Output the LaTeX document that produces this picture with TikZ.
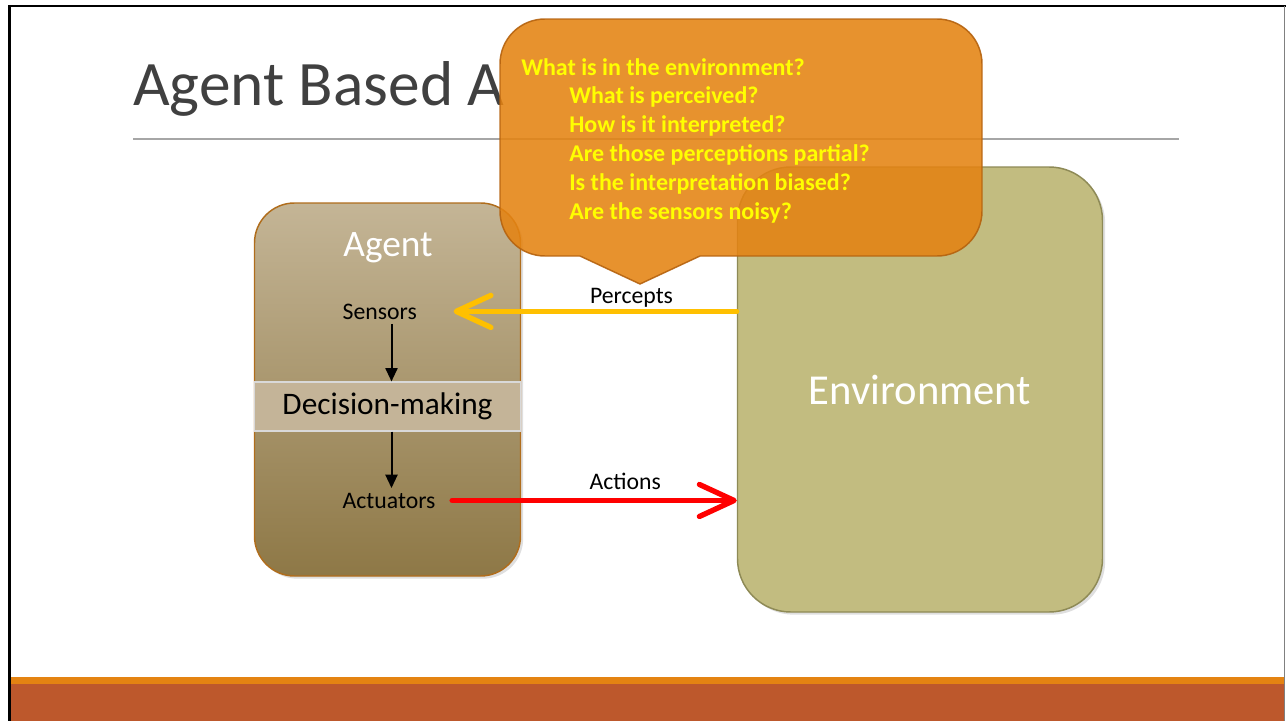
\documentclass[tikz,border=0pt]{standalone}
\usepackage{fontspec}
\setmainfont{Carlito}
\usetikzlibrary{positioning,shadows,arrows.meta}

\definecolor{barorange}{HTML}{E48312}
\definecolor{barbrown}{HTML}{BD582C}
\definecolor{titlegray}{HTML}{404040}
\definecolor{rulegray}{HTML}{A6A6A6}
\definecolor{agenttop}{HTML}{C4B596}
\definecolor{agentmid}{HTML}{9A8357}
\definecolor{agentbot}{HTML}{8E7846}
\definecolor{agentedge}{HTML}{B06D1C}
\definecolor{bandfill}{HTML}{C4B498}
\definecolor{bandedge}{HTML}{D9D9D9}
\definecolor{envfill}{HTML}{C2BC80}
\definecolor{envedge}{HTML}{8E8A56}
\definecolor{perceptyellow}{HTML}{FFC000}
\definecolor{actionred}{HTML}{FF0000}
\definecolor{calloutfill}{HTML}{E48312}
\definecolor{calloutedge}{HTML}{B5620E}
\definecolor{questionyellow}{HTML}{FFFF00}

\tikzset{
	flow/.style={line width=1.5pt, -{Triangle[length=10pt,width=9pt]}},
	signal/.style={line width=4pt, line cap=round,
		-{Straight Barb[length=26pt,width=24pt,line cap=round,line join=round]}},
	smalltext/.style={font=\fontsize{17.8}{21}\selectfont},
	panelshadow/.style={drop shadow={opacity=0.25,shadow xshift=2pt,shadow yshift=-2pt}},
}

\begin{document}
\begin{tikzpicture}[x=0.75pt, y=-0.75pt]

\useasboundingbox (0,0) rectangle (1286,721);
\fill[white] (0,0) rectangle (1286,721);

% Slide frame and footer bars
\fill[barbrown] (11,684) rectangle (1284,721);
\fill[barorange] (11,677) rectangle (1284,684);
\draw[black, line width=2pt] (8,6) -- (1286,6);
\draw[black, line width=2.2pt] (9.5,5) -- (9.5,721);
\draw[gray, line width=1.2pt] (1284.5,6) -- (1284.5,721);

% Title
\node [anchor=base west,
	inner sep=0,
	text=titlegray,
	font=\fontsize{47.5}{56}\selectfont
] (title) at (133,105) {Agent Based A};
\draw[rulegray, line width=1.1pt] (133,139) -- (1179,139);

% Agent
\node [draw=agentedge,
	line width=1.1pt,
	rounded corners=30pt,
	top color=agenttop,
	middle color=agentmid,
	bottom color=agentbot,
	minimum width=199.5pt,
	minimum height=279.75pt,
	panelshadow
] (agent) at (387.5,389.5) {};

\node [text=white,
	font=\fontsize{28}{33}\selectfont
] (agent_label) at (388,248) {Agent};

% Decision-making band
\node [draw=bandedge,
	fill=bandfill,
	line width=0.8pt,
	inner sep=0,
	minimum width=200pt,
	minimum height=36.75pt,
	font=\fontsize{23.5}{28}\selectfont
] (decision) at (387.5,406.5) {Decision-making};

% Sensors
\node [anchor=base west,
	smalltext
] (sensors) at (338,319) {Sensors};

% Actuators
\node [anchor=base west,
	smalltext
] (actuators) at (338,508) {Actuators};

% Environment
\node [draw=envedge,
	line width=1.1pt,
	rounded corners=40pt,
	fill=envfill,
	minimum width=273.75pt,
	minimum height=333.75pt,
	text=white,
	font=\fontsize{32}{38}\selectfont,
	panelshadow
] (environment) at (920,389.5) {Environment};

% Inner flow of the agent
\draw[flow] ([xshift=3pt]sensors.south -| decision.north) -- ([xshift=3pt]decision.north);
\draw[flow] ([xshift=3pt]decision.south) -- ([xshift=3pt]actuators.north -| decision.south);

% Percepts and actions
\draw[signal, perceptyellow, shorten >=24pt] (environment.west |- sensors.east) -- (sensors.east)
	node[pos=0.334, above=-2pt, text=black, smalltext] {Percepts};
\draw[signal, actionred, shorten <=9pt] (actuators.east) -- (actuators.east -| environment.west)
	node[pos=0.624, above=3pt, text=black, smalltext] {Actions};

% Callout with the questions
\draw[fill=calloutfill, fill opacity=0.88, draw=calloutedge, draw opacity=0.9, line width=1.1pt]
	(640,284) -- (700,256) -- (937,256) .. controls (962,256) and (982,236) .. (982,211)
	-- (982,64) .. controls (982,39) and (962,19) .. (937,19)
	-- (545,19) .. controls (520,19) and (500,39) .. (500,64)
	-- (500,211) .. controls (500,236) and (520,256) .. (545,256)
	-- (580,256) -- cycle;

\node [anchor=north west,
	inner sep=0,
	align=left,
	text=questionyellow,
	font=\bfseries\fontsize{18}{21.6}\selectfont
] (questions) at (521,58) {What is in the environment?\\
\hspace*{36pt}What is perceived?\\
\hspace*{36pt}How is it interpreted?\\
\hspace*{36pt}Are those perceptions partial?\\
\hspace*{36pt}Is the interpretation biased?\\
\hspace*{36pt}Are the sensors noisy?};

\end{tikzpicture}
\end{document}
